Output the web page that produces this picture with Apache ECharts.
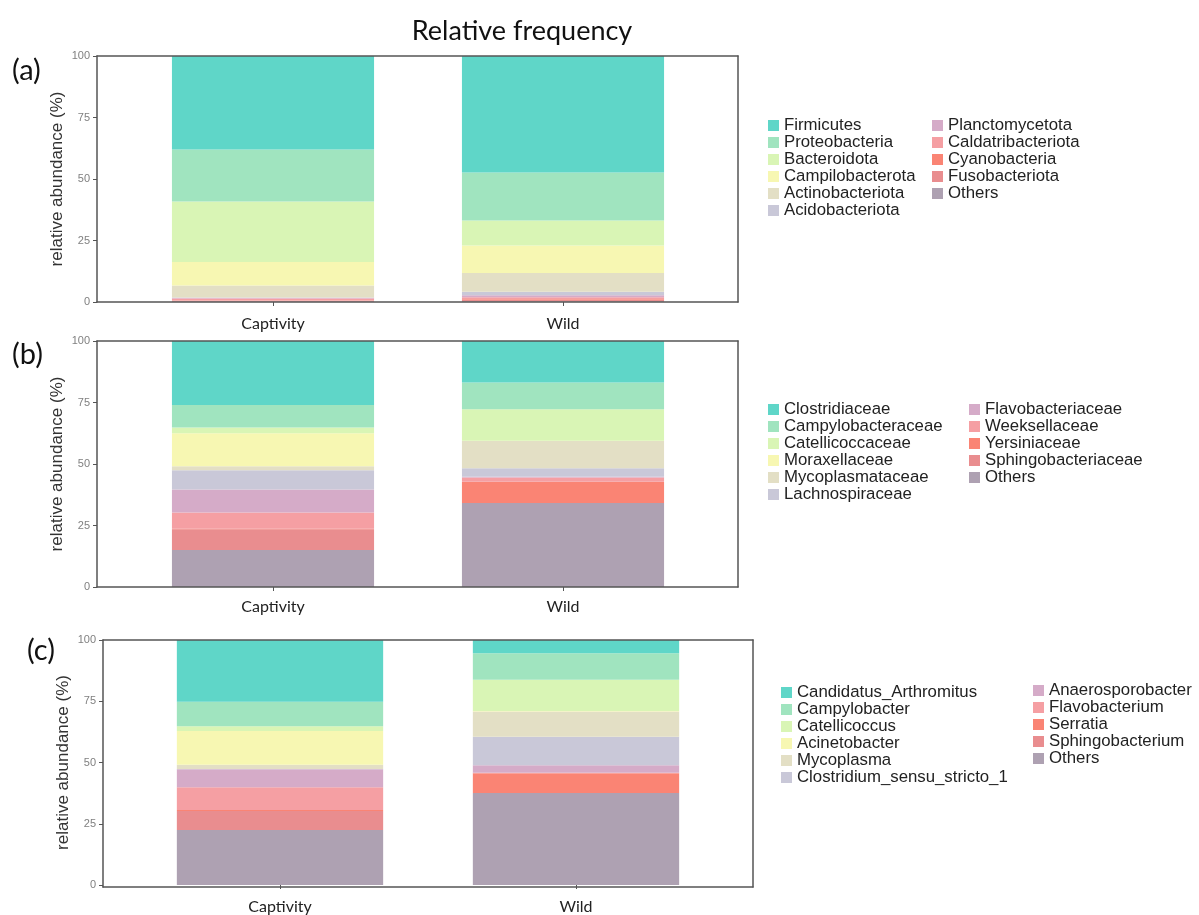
<!DOCTYPE html>
<html>
<head>
<meta charset="utf-8">
<script src="https://cdn.jsdelivr.net/npm/echarts@6/dist/echarts.min.js"></script>
<style>
html,body{margin:0;padding:0;background:#fff;}
#chart{width:1199px;height:915px;}
</style>
</head>
<body>
<div id="chart"></div>
<script>
// ---------- DATA ----------
var categories = ['Captivity', 'Wild'];

var phylumNames = ['Firmicutes','Proteobacteria','Bacteroidota','Campilobacterota','Actinobacteriota','Acidobacteriota',
                   'Planctomycetota','Caldatribacteriota','Cyanobacteria','Fusobacteriota','Others'];
var phylumCaptivity = [38.0, 21.1, 24.6, 9.6, 4.9, 0.2, 0.2, 0.8, 0.1, 0.3, 0.2];
var phylumWild      = [47.4, 19.5, 10.1, 11.2, 7.6, 1.5, 0.8, 0.8, 0.3, 0.5, 0.3];

var familyNames = ['Clostridiaceae','Campylobacteraceae','Catellicoccaceae','Moraxellaceae','Mycoplasmataceae','Lachnospiraceae',
                   'Flavobacteriaceae','Weeksellaceae','Yersiniaceae','Sphingobacteriaceae','Others'];
var familyCaptivity = [26.0, 9.2, 2.3, 13.4, 1.6, 7.9, 9.3, 6.6, 0.2, 8.5, 15.0];
var familyWild      = [16.9, 10.8, 12.8, 0.2, 11.0, 3.5, 0.3, 1.7, 8.7, 0.0, 34.1];

var genusNames = ['Candidatus_Arthromitus','Campylobacter','Catellicoccus','Acinetobacter','Mycoplasma','Clostridium_sensu_stricto_1',
                  'Anaerosporobacter','Flavobacterium','Serratia','Sphingobacterium','Others'];
var genusCaptivity = [25.2, 10.0, 1.9, 13.8, 1.8, 0.1, 7.3, 9.3, 0.4, 7.7, 22.5];
var genusWild      = [5.4, 10.8, 12.8, 0.2, 10.3, 11.6, 3.1, 0.2, 8.0, 0.0, 37.6];

var palette = ['#5fd6c8','#a0e4bf','#d9f5b5','#f7f7b2','#e3dfc5','#c9c8d8','#d5abc8','#f59fa3','#fa8474','#e98d8f','#aea1b2'];

// ---------- LAYOUT ----------
var panels = [
  {names: phylumNames, vals: [phylumCaptivity, phylumWild], box: {left: 97, top: 56, width: 641, height: 246},
   data: {left: 128, width: 580}, nameGap: 31, labMargin: 14,
   leg1: {left: 768, top: 117}, leg2: {left: 932, top: 117}},
  {names: familyNames, vals: [familyCaptivity, familyWild], box: {left: 97, top: 341, width: 641, height: 246},
   data: {left: 128, width: 580}, nameGap: 31, labMargin: 12,
   leg1: {left: 768, top: 401}, leg2: {left: 969, top: 401}},
  {names: genusNames, vals: [genusCaptivity, genusWild], box: {left: 103, top: 640, width: 650, height: 247},
   data: {left: 132, width: 592}, nameGap: 31, labMargin: 14,
   leg1: {left: 781, top: 684}, leg2: {left: 1033, top: 682}}
];

var grids = [], xAxes = [], yAxes = [], series = [], legends = [];
var boxLine = {show: true, onZero: false, lineStyle: {color: '#555', width: 1.5}};

panels.forEach(function (p, k) {
  var gBox = grids.length;
  grids.push({left: p.box.left, top: p.box.top, width: p.box.width, height: p.box.height, show: false});
  var gData = grids.length;
  grids.push({left: p.data.left, top: p.box.top, width: p.data.width, height: p.box.height, show: false});

  ['top', 'bottom'].forEach(function (pos) {
    xAxes.push({gridIndex: gBox, type: 'value', position: pos, min: 0, max: 1, z: 10,
      axisLine: boxLine, axisTick: {show: false}, axisLabel: {show: false}, splitLine: {show: false}});
  });
  ['left', 'right'].forEach(function (pos) {
    yAxes.push({gridIndex: gBox, type: 'value', position: pos, min: 0, max: 1, z: 10,
      axisLine: boxLine, axisTick: {show: false}, axisLabel: {show: false}, splitLine: {show: false}});
  });
  var xi = xAxes.length;
  xAxes.push({gridIndex: gData, type: 'category', data: categories, position: 'bottom',
    axisLine: {show: false}, axisTick: {show: true, alignWithLabel: true, length: 4, lineStyle: {color: '#555'}},
    axisLabel: {color: '#222', fontSize: 16, fontFamily: 'Lato', margin: p.labMargin}, splitLine: {show: false}});
  var yi = yAxes.length;
  yAxes.push({gridIndex: gData, type: 'value', min: 0, max: 100, interval: 25, position: 'left',
    offset: p.data.left - p.box.left,
    axisLine: {show: false}, axisTick: {show: true, length: 4, lineStyle: {color: '#555'}},
    axisLabel: {color: '#808080', fontSize: 11, fontFamily: 'Liberation Sans', margin: 7},
    splitLine: {show: false},
    name: 'relative abundance (%)', nameLocation: 'middle', nameRotate: 90, nameGap: p.nameGap,
    nameTextStyle: {color: '#333', fontSize: 17, fontFamily: 'Liberation Sans'}});

  // stack bottom-up: last name at bottom
  for (var i = p.names.length - 1; i >= 0; i--) {
    series.push({
      type: 'bar', name: p.names[i], stack: 'panel' + k, xAxisIndex: xi, yAxisIndex: yi,
      barWidth: '69.7%', itemStyle: {color: palette[i]},
      data: [p.vals[0][i], p.vals[1][i]]
    });
  }
  var legCommon = {orient: 'vertical', itemWidth: 11, itemHeight: 11, itemGap: 0, icon: 'rect', padding: 0,
    selectedMode: false, textStyle: {fontSize: 16.8, fontFamily: 'Liberation Sans', color: '#222', lineHeight: 17}};
  legends.push(Object.assign({}, legCommon, {left: p.leg1.left, top: p.leg1.top, data: p.names.slice(0, 6)}));
  legends.push(Object.assign({}, legCommon, {left: p.leg2.left, top: p.leg2.top, data: p.names.slice(6)}));
});

var chart = echarts.init(document.getElementById('chart'));
chart.setOption({
  animation: false,
  backgroundColor: '#fff',
  title: {text: 'Relative frequency', left: 517, top: 13, textAlign: 'center',
    textStyle: {fontFamily: 'Lato', fontWeight: 'normal', fontSize: 27, color: '#111'}},
  graphic: [
    {type: 'text', left: 12, top: 56, style: {text: '(a)', fontSize: 29, fontFamily: 'Lato', fill: '#111'}},
    {type: 'text', left: 12, top: 340, style: {text: '(b)', fontSize: 29, fontFamily: 'Lato', fill: '#111'}},
    {type: 'text', left: 27, top: 636, style: {text: '(c)', fontSize: 29, fontFamily: 'Lato', fill: '#111'}}
  ],
  grid: grids, xAxis: xAxes, yAxis: yAxes, series: series, legend: legends
});
</script>
</body>
</html>
